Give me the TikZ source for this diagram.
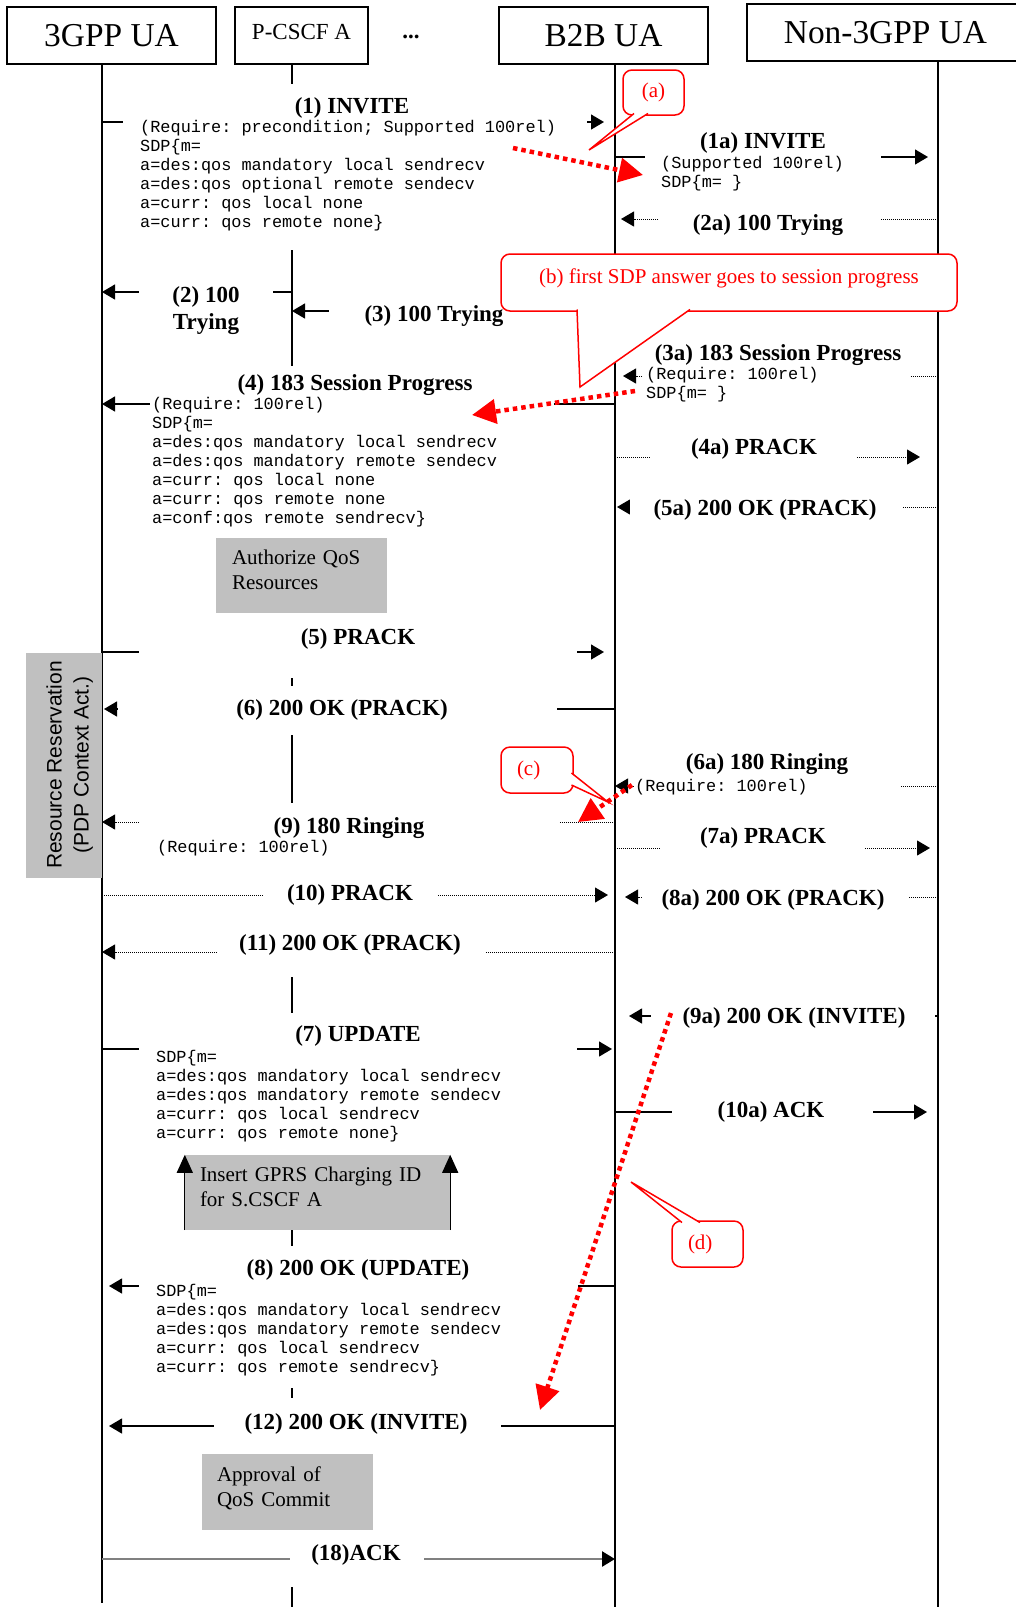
\documentclass[tikz,border=0pt]{standalone}
\usepackage{fontspec}
\setmainfont{Liberation Serif}
\setsansfont{Liberation Sans}
\setmonofont{Liberation Mono}
\usetikzlibrary{arrows.meta}

\definecolor{boxgray}{RGB}{192,192,192}
\definecolor{ackgray}{RGB}{128,128,128}
\definecolor{notered}{RGB}{255,0,0}

\begin{document}
\begin{tikzpicture}[
      x=1pt, y=-1pt,
      actor/.style={draw, line width=1.8pt, minimum height=57pt, inner sep=0pt, font=\fontsize{33.4}{38}\selectfont},
      life/.style={line width=1.5pt},
      msg/.style={line width=1.3pt, -{Triangle[length=13pt,width=15pt]}},
      dotmsg/.style={msg, line width=1pt, densely dotted},
      wipe/.style={fill=white},
      msglabel/.style={inner sep=0pt, yshift=-2pt, align=center, font=\fontsize{23}{27}\selectfont\bfseries},
      sdp/.style={anchor=base west, inner sep=0pt, align=left, font=\ttfamily\fontsize{16.9}{19}\selectfont}, % placed at the baseline of the last line
      greybox/.style={fill=boxgray, inner ysep=0pt, text depth=36pt, align=left, font=\fontsize{21}{25}\selectfont},
      uparrow/.style={line width=1.3pt, -{Triangle[length=18pt,width=16pt]}},
      redbox/.style={draw=notered, fill=white, rounded corners=9pt, line width=1.5pt, inner sep=0pt, text=notered, font=\fontsize{21}{25}\selectfont},
      redtail/.style={draw=notered, fill=white, line width=1.5pt},
      hint/.style={notered, line width=4.5pt, dash pattern=on 4.5pt off 4pt, -{Triangle[length=24pt,width=24pt]}}
    ]
    \useasboundingbox (0,0) rectangle (1016,1607);

    % Entities
    \node[actor, minimum width=209pt] (ua) at (111.5,35.5) {3GPP UA};
    \node[actor, minimum width=133pt, text depth=8pt, font=\fontsize{23}{26}\selectfont] (pcscf) at (301.5,35.5) {P-CSCF A};
    \node[inner sep=0pt, font=\fontsize{23}{26}\selectfont\bfseries] (more) at (411,37) {...};
    \node[actor, minimum width=209pt] (b2b) at (603.5,35.5) {B2B UA};
    \node[actor, minimum width=277pt] (non) at (885.5,32.5) {Non-3GPP UA};

    % Lifelines
    \coordinate (uaend) at (102,1603);
    \coordinate (pcend) at (292,1607);
    \coordinate (bbend) at (615,1607);
    \coordinate (nonend) at (938,1607);
    \draw[life] (ua.south -| uaend) -- (uaend);
    \draw[life] (pcscf.south -| pcend) -- (pcend);
    \draw[life] (b2b.south -| bbend) -- (bbend);
    \draw[life] (non.south -| nonend) -- (nonend);

    % Messages on the 3GPP side
    \draw[msg, shorten >=11pt] (uaend |- 0,122) -- (bbend |- 0,122); % (1)
    \draw[msg] (pcend |- 0,292) -- (uaend |- 0,292); % (2)
    \draw[msg] (bbend |- 0,311) -- (pcend |- 0,311); % (3)
    \draw[msg] (bbend |- 0,404) -- (uaend |- 0,404); % (4)
    \draw[msg, shorten >=11pt] (uaend |- 0,652) -- (bbend |- 0,652); % (5)
    \draw[msg, shorten >=2pt] (bbend |- 0,709) -- (uaend |- 0,709); % (6)
    \draw[dotmsg] (bbend |- 0,822) -- (uaend |- 0,822); % (9)
    \draw[dotmsg, shorten >=7pt] (uaend |- 0,895) -- (bbend |- 0,895); % (10)
    \draw[dotmsg] (bbend |- 0,952) -- (uaend |- 0,952); % (11)
    \draw[msg, shorten >=3pt] (uaend |- 0,1049) -- (bbend |- 0,1049); % (7)
    \draw[msg, shorten >=7pt] (bbend |- 0,1286) -- (uaend |- 0,1286); % (8)
    \draw[msg, shorten >=7pt] (bbend |- 0,1426) -- (uaend |- 0,1426); % (12)
    \draw[msg, line width=2.5pt, ackgray, -{Triangle[length=13pt,width=15pt,color=black]}] (uaend |- 0,1559) -- (bbend |- 0,1559); % (18)

    % Messages on the non-3GPP side
    \draw[msg, shorten >=10pt] (bbend |- 0,157) -- (nonend |- 0,157); % (1a)
    \draw[dotmsg, shorten >=6pt] (nonend |- 0,219) -- (bbend |- 0,219); % (2a)
    \draw[dotmsg, shorten >=8pt] (nonend |- 0,376) -- (bbend |- 0,376); % (3a)
    \draw[dotmsg, shorten >=18pt] (bbend |- 0,457) -- (nonend |- 0,457); % (4a)
    \draw[dotmsg, shorten >=2pt] (nonend |- 0,507) -- (bbend |- 0,507); % (5a)
    \draw[dotmsg] (nonend |- 0,786) -- (bbend |- 0,786); % (6a)
    \draw[dotmsg, shorten >=8pt] (bbend |- 0,848) -- (nonend |- 0,848); % (7a)
    \draw[dotmsg, shorten >=10pt] (nonend |- 0,897) -- (bbend |- 0,897); % (8a)
    \draw[msg, shorten >=14pt] (nonend |- 0,1016) -- (bbend |- 0,1016); % (9a)
    \draw[msg, shorten >=11pt] (bbend |- 0,1112) -- (nonend |- 0,1112); % (10a)

    % White text areas over the lines
    \fill[wipe] (123,84) rectangle (587,250);
    \fill[wipe] (139,268) rectangle (273,338);
    \fill[wipe] (329,290) rectangle (600,332);
    \fill[wipe] (150,366) rectangle (554,538);
    \fill[wipe] (139,613) rectangle (577,678);
    \fill[wipe] (118,686) rectangle (557,735);
    \fill[wipe] (139,803) rectangle (559,862);
    \fill[wipe] (264,862) rectangle (437,925);
    \fill[wipe] (217,925) rectangle (485,977);
    \fill[wipe] (139,1013) rectangle (577,1155);
    \fill[wipe] (139,1246) rectangle (578,1388);
    \fill[wipe] (214,1398) rectangle (501,1455);
    \fill[wipe] (290,1530) rectangle (424,1587);
    \fill[wipe] (645,122) rectangle (881,196);
    \fill[wipe] (659,200) rectangle (881,240);
    \fill[wipe] (643,333) rectangle (910,404);
    \fill[wipe] (651,430) rectangle (857,475);
    \fill[wipe] (630,488) rectangle (903,528);
    \fill[wipe] (634,745) rectangle (901,800);
    \fill[wipe] (661,818) rectangle (865,866);
    \fill[wipe] (642,878) rectangle (909,916);
    \fill[wipe] (651,998) rectangle (935,1035);
    \fill[wipe] (672,1092) rectangle (873,1130);

    % Labels, 3GPP side
    \node[msglabel] (t1) at (352,106) {(1) INVITE};
    \node[sdp] (s1) at (140,227) {(Require: precondition; Supported 100rel)\\SDP\{m=\\a=des:qos mandatory local sendrecv\\a=des:qos optional remote sendecv\\a=curr: qos local none\\a=curr: qos remote none\}};
    \node[msglabel] (t2) at (206,309) {(2) 100\\Trying};
    \node[msglabel] (t3) at (434,314) {(3) 100 Trying};
    \node[msglabel] (t4) at (355,383) {(4) 183 Session Progress};
    \node[sdp] (s4) at (152,523) {(Require: 100rel)\\SDP\{m=\\a=des:qos mandatory local sendrecv\\a=des:qos mandatory remote sendecv\\a=curr: qos local none\\a=curr: qos remote none\\a=conf:qos remote sendrecv\}};
    \node[msglabel] (t5) at (358,637) {(5) PRACK};
    \node[msglabel] (t6) at (342,708) {(6) 200 OK (PRACK)};
    \node[msglabel] (t9) at (349,826) {(9) 180 Ringing};
    \node[sdp] (s9) at (157,852) {(Require: 100rel)};
    \node[msglabel] (t10) at (350,893) {(10) PRACK};
    \node[msglabel] (t11) at (350,943) {(11) 200 OK (PRACK)};
    \node[msglabel] (t7) at (358,1034) {(7) UPDATE};
    \node[sdp] (s7) at (156,1138) {SDP\{m=\\a=des:qos mandatory local sendrecv\\a=des:qos mandatory remote sendecv\\a=curr: qos local sendrecv\\a=curr: qos remote none\}};
    \node[msglabel] (t8) at (358,1268) {(8) 200 OK (UPDATE)};
    \node[sdp] (s8) at (156,1372) {SDP\{m=\\a=des:qos mandatory local sendrecv\\a=des:qos mandatory remote sendecv\\a=curr: qos local sendrecv\\a=curr: qos remote sendrecv\}};
    \node[msglabel] (t12) at (356,1422) {(12) 200 OK (INVITE)};
    \node[msglabel] (t18) at (356,1553) {(18)ACK};

    % Labels, non-3GPP side
    \node[msglabel] (t1a) at (763,141) {(1a) INVITE};
    \node[sdp] (s1a) at (661,187) {(Supported 100rel)\\SDP\{m= \}};
    \node[msglabel] (t2a) at (768,223) {(2a) 100 Trying};
    \node[msglabel] (t3a) at (778,353) {(3a) 183 Session Progress};
    \node[sdp] (s3a) at (646,398) {(Require: 100rel)\\SDP\{m= \}};
    \node[msglabel] (t4a) at (754,447) {(4a) PRACK};
    \node[msglabel] (t5a) at (765,508) {(5a) 200 OK (PRACK)};
    \node[msglabel] (t6a) at (767,762) {(6a) 180 Ringing};
    \node[sdp] (s6a) at (635,791) {(Require: 100rel)};
    \node[msglabel] (t7a) at (763,836) {(7a) PRACK};
    \node[msglabel] (t8a) at (773,898) {(8a) 200 OK (PRACK)};
    \node[msglabel] (t9a) at (794,1016) {(9a) 200 OK (INVITE)};
    \node[msglabel] (t10a) at (771,1110) {(10a) ACK};

    % Grey action boxes
    \node[greybox, minimum width=171pt, minimum height=75pt, text width=139pt, inner xsep=16pt] (auth) at (301.5,575.5) {Authorize QoS\\Resources};
    \node[greybox, rotate=90, align=center, inner sep=0pt, text height=54pt, text depth=5pt, minimum width=225pt, minimum height=76pt, font=\sffamily\fontsize{21}{27}\selectfont] (resv) at (64,765) {Resource Reservation\\(PDP Context Act.)};
    \node[greybox, minimum width=265pt, minimum height=75pt, text width=235pt, inner xsep=15pt] (gprs) at (317.5,1192.5) {Insert GPRS Charging ID\\for S.CSCF A};
    \draw[uparrow] (gprs.south west) -- (gprs.north west);
    \draw[uparrow] (gprs.south east) -- (gprs.north east);
    \node[greybox, minimum width=171pt, minimum height=76pt, text width=141pt, inner xsep=15pt] (qos) at (287.5,1492) {Approval of\\QoS Commit};

    % Red notes
    \node[redbox, minimum width=61pt, minimum height=45pt] (na) at (653.5,92.5) {(a)};
    \filldraw[redtail] (634,113.5) -- (589,150) -- (648,113.5);
    \node[redbox, minimum width=456pt, minimum height=57pt, text depth=12pt] (nb) at (729,282.5) {(b) first SDP answer goes to session progress};
    \filldraw[redtail] (577,309.5) -- (580,387) -- (690,309.5);
    \node[redbox, minimum width=72pt, minimum height=46pt, text width=40pt, inner xsep=16pt, align=left] (nc) at (537,770) {(c)};
    \filldraw[redtail] (571.5,773) -- (608,802) -- (571.5,785);
    \node[redbox, minimum width=71pt, minimum height=46pt, text width=39pt, inner xsep=16pt, align=left] (nd) at (707.5,1244) {(d)};
    \filldraw[redtail] (682,1222.5) -- (631,1182) -- (700,1222.5);

    % Red hints
    \coordinate (ha) at (513,148);
    \coordinate (ha') at (643,175);
    \coordinate (hb) at (635,391);
    \coordinate (hb') at (472,415);
    \coordinate (hc) at (632,785);
    \coordinate (hc') at (578,822);
    \coordinate (hd) at (671,1013);
    \coordinate (hd') at (540,1410);
    \draw[hint] (ha) -- (ha');
    \draw[hint] (hb) -- (hb');
    \draw[hint] (hc) -- (hc');
    \draw[hint] (hd) -- (hd');
\end{tikzpicture}
\end{document}
